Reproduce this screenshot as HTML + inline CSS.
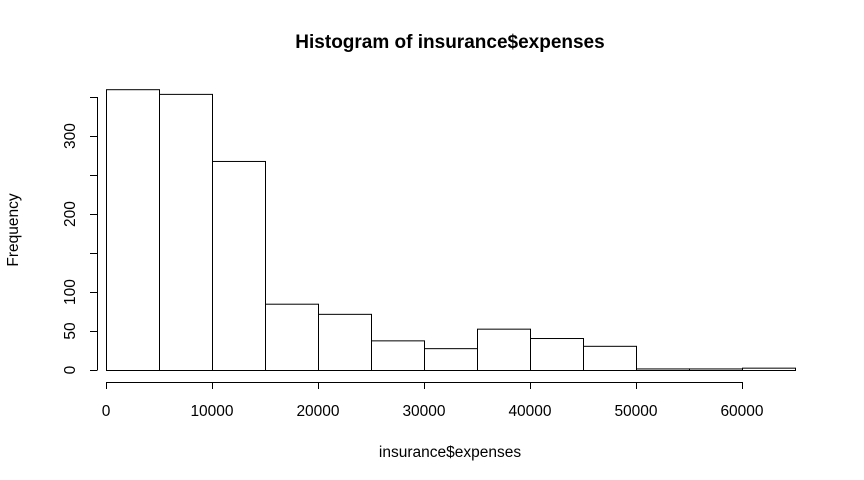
<!DOCTYPE html>
<html><head><meta charset="utf-8"><style>body{margin:0;background:#fff}svg{display:block;font-family:"Liberation Sans",sans-serif}</style></head>
<body>
<svg id="c" width="864" height="480">
<text x="450" y="48" text-anchor="middle" font-size="19" font-weight="bold">Histogram of insurance$expenses</text>
<text x="450" y="457" text-anchor="middle" font-size="15.5">insurance$expenses</text>
<text transform="translate(18,230) rotate(-90)" text-anchor="middle" font-size="15.5">Frequency</text>
<g id="bars"></g><g id="xa"></g><g id="ya"></g>
</svg>
<script>
const binStarts=[0,5000,10000,15000,20000,25000,30000,35000,40000,45000,50000,55000,60000];
const counts=[360,354,268,85,72,38,28,53,41,31,2,2,3];
const xTicks=[0,10000,20000,30000,40000,50000,60000];
const yTicks=[0,50,100,150,200,250,300,350];
const yLabels=["0","50","100","","200","","300",""];
const binWidth=5000;
const NS="http://www.w3.org/2000/svg";
const X=v=>106+v*(795-106)/65000;
const Y=v=>370-v*(370-136)/300;
function mk(t,a,p){const e=document.createElementNS(NS,t);for(const k in a)e.setAttribute(k,a[k]);p.appendChild(e);return e;}
const bars=document.getElementById('bars');
binStarts.forEach((s,i)=>{
 const r=mk('rect',{x:X(s)+0.5,y:Y(counts[i])+0.5,width:X(s+binWidth)-X(s),height:Y(0)-Y(counts[i]),fill:'#fff',stroke:'#000','stroke-width':1},bars);
 
 
});
const xa=document.getElementById('xa');
const xl=mk('line',{x1:X(xTicks[0]),x2:X(xTicks[xTicks.length-1]),y1:382.5,y2:382.5,stroke:'#000'},xa);


xTicks.forEach(t=>{
 mk('line',{x1:X(t)+0.5,x2:X(t)+0.5,y1:382,y2:389,stroke:'#000'},xa);
 const tx=mk('text',{x:X(t),y:416,'text-anchor':'middle','font-size':15.5},xa);tx.textContent=t;
 
 
});
const ya=document.getElementById('ya');
const yl=mk('line',{x1:97.5,x2:97.5,y1:Y(0),y2:Y(350),stroke:'#000'},ya);


yTicks.forEach((t,i)=>{
 mk('line',{x1:90,x2:97.5,y1:Y(t)+0.5,y2:Y(t)+0.5,stroke:'#000'},ya);
 if(yLabels[i]){const tx=mk('text',{transform:`translate(75,${Y(t)}) rotate(-90)`,'text-anchor':'middle','font-size':15.5},ya);tx.textContent=yLabels[i];
 
 }
});
</script>
</body></html>
